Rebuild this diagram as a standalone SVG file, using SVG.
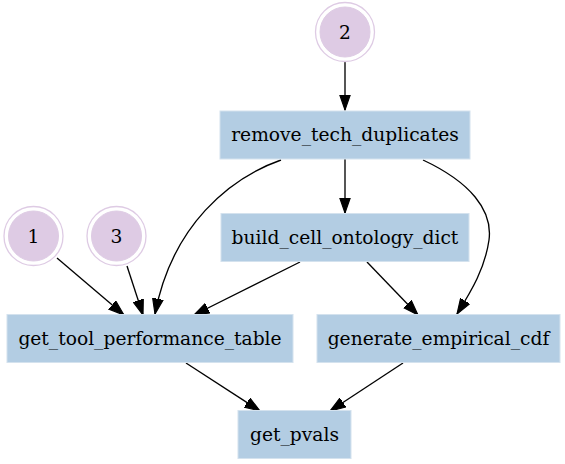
<svg xmlns="http://www.w3.org/2000/svg" width="565" height="464" viewBox="0 0 565 464">
<defs>
<style>
.box{fill:#b3cde3;stroke:#d4e2ee;stroke-width:1}
.outer{fill:none;stroke:#decbe4;stroke-width:1.3}
.inner{fill:#decbe4;stroke:#decbe4;stroke-width:1}
text{font-family:"DejaVu Serif","Liberation Serif",serif;font-size:18.67px;fill:#000;text-anchor:middle}
.edge{fill:none;stroke:#000;stroke-width:1.33;marker-end:url(#arr)}
</style>
<marker id="arr" markerUnits="userSpaceOnUse" markerWidth="16" markerHeight="12" viewBox="0 0 14 10" refX="13.5" refY="5" orient="auto">
<path d="M0,0.3 L13.5,5 L0,9.7 z" fill="#000" stroke="#000" stroke-width="1"/>
</marker>
</defs>
<rect width="565" height="464" fill="#fff"/>
<g id="edges">
<path class="edge" d="M345,62 L345,110"/>
<path class="edge" d="M345,159 L345,213"/>
<path class="edge" d="M281,160 C230,178 172,225 155,314"/>
<path class="edge" d="M423,160 C470,182 493,210 489,240 C485,268 472,290 457,314"/>
<path class="edge" d="M300,262 L194,315"/>
<path class="edge" d="M367,262 L418,315"/>
<path class="edge" d="M57,258 L124,315"/>
<path class="edge" d="M127,266 L143,315"/>
<path class="edge" d="M186,363 L260,411"/>
<path class="edge" d="M403,363 L330,411"/>
</g>
<g id="n2"><circle class="outer" cx="345" cy="32" r="29.5"/><circle class="inner" cx="345" cy="32" r="25"/><text x="345" y="38.5">2</text></g>
<g id="n1"><circle class="outer" cx="33.5" cy="236" r="29.5"/><circle class="inner" cx="33.5" cy="236" r="25"/><text x="33.5" y="242.5">1</text></g>
<g id="n3"><circle class="outer" cx="116.5" cy="236" r="29.5"/><circle class="inner" cx="116.5" cy="236" r="25"/><text x="116.5" y="242.5">3</text></g>
<g id="remove_tech_duplicates"><rect class="box" x="220" y="111" width="250" height="48"/><text x="345" y="141">remove_tech_duplicates</text></g>
<g id="build_cell_ontology_dict"><rect class="box" x="221" y="213.5" width="248" height="48"/><text x="345" y="243.5">build_cell_ontology_dict</text></g>
<g id="get_tool_performance_table"><rect class="box" x="7" y="314.5" width="286" height="48"/><text x="150" y="344.5">get_tool_performance_table</text></g>
<g id="generate_empirical_cdf"><rect class="box" x="317" y="314.5" width="243" height="48"/><text x="438.5" y="344.5">generate_empirical_cdf</text></g>
<g id="get_pvals"><rect class="box" x="238" y="410.5" width="113" height="48"/><text x="294.5" y="440.5">get_pvals</text></g>
</svg>
